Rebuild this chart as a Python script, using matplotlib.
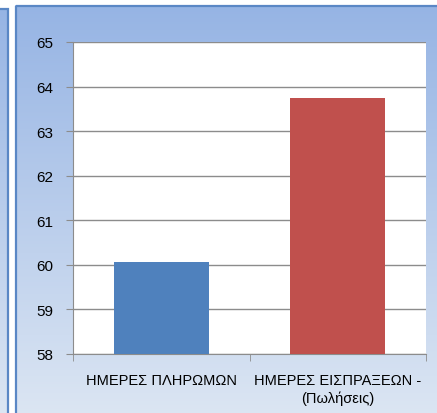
import numpy as np
import matplotlib
matplotlib.use('Agg')
import matplotlib.pyplot as plt
from matplotlib.patches import Rectangle

categories = ['ΗΜΕΡΕΣ ΠΛΗΡΩΜΩΝ', 'ΗΜΕΡΕΣ ΕΙΣΠΡΑΞΕΩΝ -\n(Πωλήσεις)']
values = [60.07, 63.75]
colors = ['#4F81BD', '#C0504D']
yticks = [58, 59, 60, 61, 62, 63, 64, 65]

plt.rcParams['font.family'] = ['Liberation Sans', 'DejaVu Sans']

W, H = 437, 414
fig = plt.figure(figsize=(W / 100, H / 100), dpi=100)
fig.patch.set_facecolor('white')

# background: blue gradient panels (the chart and a slice of a neighbouring one)
bg = fig.add_axes([0, 0, 1, 1])
bg.set_xlim(0, W)
bg.set_ylim(H, 0)
bg.axis('off')
top = np.array([150, 180, 228]) / 255
bot = np.array([220, 230, 243]) / 255
t = np.linspace(0, 1, 200)[:, None]
grad = (top * (1 - t) + bot * t)[:, None, :]
grad = np.repeat(grad, 2, axis=1)
bg.imshow(grad, extent=[15, W + 5, H + 5, 6], aspect='auto', zorder=0)
bg.imshow(grad, extent=[-5, 7.5, H + 5, 9], aspect='auto', zorder=0)
bg.add_patch(Rectangle((15.5, 6.5), W, H, fill=False, ec='#5A87C5', lw=1.6, zorder=1))
bg.add_patch(Rectangle((-5, 9.5), 12.5, H, fill=False, ec='#5A87C5', lw=1.6, zorder=1))

ax = fig.add_axes([73 / W, 1 - 355 / H, (426 - 73) / W, (355 - 43) / H])
ax.set_facecolor('white')
x = np.arange(len(categories))
ax.bar(x, values, width=0.54, color=colors, zorder=3)
ax.set_ylim(58, 65)
ax.set_xlim(-0.5, 1.5)
ax.set_yticks(yticks)
ax.yaxis.grid(True, color='#8C8C8C', lw=1.0, zorder=1)
ax.set_axisbelow(True)
ax.set_xticks(x)
ax.set_xticklabels(categories, fontsize=10.5, linespacing=1.25)
ax.tick_params(axis='x', length=0, pad=14)
ax.set_xticks([-0.5, 0.5, 1.5], minor=True)
ax.tick_params(axis='x', which='minor', length=5, color='#8C8C8C', direction='out')
ax.tick_params(axis='y', length=5, color='#8C8C8C', labelsize=11, pad=9)
for s in ['top', 'right']:
    ax.spines[s].set_visible(False)
ax.spines['left'].set_color('#8C8C8C')
ax.spines['bottom'].set_color('#8C8C8C')

fig.savefig('out.png', dpi=100)
